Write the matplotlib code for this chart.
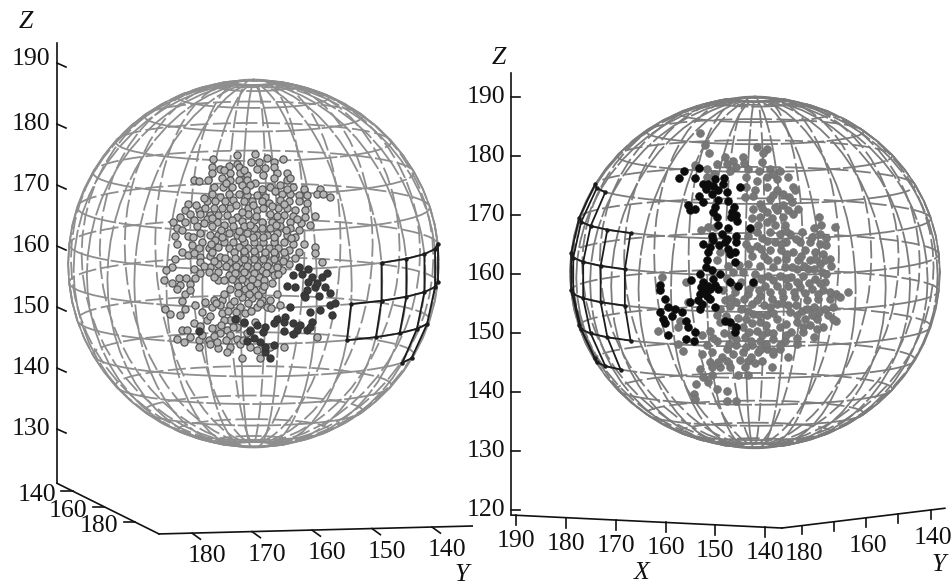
import numpy as np
import matplotlib
matplotlib.use("Agg")
import matplotlib.pyplot as plt

plt.rcParams['font.family'] = ['Liberation Serif', 'DejaVu Serif']

# left panel, points read as (Y, Z)
left_gray = [
    (172.5,174.9),(169.5,175.1),(176.5,174.2),(170.2,173.7),(168.9,173.8),(167.5,174.4),(166.4,173.8),(164.9,174.2),
    (172.5,173.5),(173.9,173.1),(172.1,173.0),(176.7,173.0),(175.4,172.6),(176.7,172.0),(169.2,172.7),(167.9,172.8),
    (166.3,172.9),(173.6,172.0),(172.0,171.9),(170.9,171.6),(165.9,171.9),(164.2,171.9),(179.7,170.8),(178.9,170.7),
    (177.4,170.9),(175.0,171.1),(173.6,170.8),(172.2,170.8),(170.9,170.8),(169.5,170.3),(166.4,171.1),(164.2,170.8),
    (163.6,171.1),(176.4,169.7),(174.8,169.7),(173.4,169.7),(171.7,170.0),(170.3,170.0),(168.4,169.4),(167.0,169.7),
    (165.3,170.0),(163.1,169.7),(161.4,169.3),(158.6,169.4),(159.2,168.6),(158.1,168.6),(157.0,168.1),(176.7,168.6),
    (175.3,168.1),(173.9,168.6),(172.2,168.6),(170.9,168.3),(169.2,168.3),(167.8,168.1),(165.0,168.6),(163.6,168.6),
    (162.2,168.3),(160.9,168.3),(177.5,167.3),(176.1,167.3),(174.5,167.3),(173.1,167.5),(171.4,167.3),(170.0,167.3),
    (168.4,167.3),(167.2,167.0),(165.3,167.5),(163.9,167.3),(162.2,167.3),(160.9,167.0),(180.6,166.9),(181.1,165.9),
    (178.9,165.9),(177.8,166.2),(176.4,166.2),(175.0,166.2),(173.6,166.2),(170.6,166.2),(169.2,165.9),(168.1,166.2),
    (165.6,166.2),(164.2,166.2),(162.8,165.9),(161.1,165.9),(182.0,164.7),(183.1,164.0),(180.3,165.3),(178.6,165.3),
    (177.0,165.1),(175.6,165.1),(174.2,165.1),(170.6,165.3),(167.0,165.3),(164.7,165.1),(163.1,164.9),(161.1,164.7),
    (159.5,164.9),(172.5,164.7),(173.4,164.2),(171.7,164.1),(177.5,164.4),(175.9,164.0),(179.7,164.2),(181.1,164.0),
    (182.5,162.9),(179.2,163.2),(176.7,163.2),(174.7,163.4),(173.1,163.2),(171.4,163.2),(169.7,164.2),(168.4,164.0),
    (166.7,164.0),(165.3,164.2),(163.6,164.0),(161.9,163.7),(160.3,163.4),(169.7,162.9),(168.4,162.9),(167.0,162.9),
    (165.3,163.2),(163.6,162.9),(162.2,162.6),(182.8,161.6),(180.6,161.6),(178.6,162.1),(177.0,161.8),(175.6,161.8),
    (173.9,162.1),(172.5,161.8),(170.9,162.1),(169.2,161.8),(167.5,161.8),(165.9,162.1),(164.2,161.8),(162.8,161.5),
    (182.5,160.4),(180.0,160.1),(178.4,160.7),(176.1,161.0),(174.7,160.7),(173.1,160.7),(171.4,160.7),(169.7,160.7),
    (168.1,160.7),(166.4,160.7),(164.7,160.7),(163.1,160.4),(161.4,160.4),(159.5,159.8),(178.9,159.6),(177.2,159.6),
    (175.6,159.9),(173.9,159.6),(172.2,159.9),(170.6,159.6),(168.9,159.6),(167.2,159.6),(165.6,159.6),(163.9,159.3),
    (162.2,159.1),(181.7,159.1),(180.6,158.5),(178.6,158.2),(177.0,158.3),(175.3,158.2),(171.1,158.5),(169.5,158.5),
    (167.8,158.5),(166.1,158.5),(164.5,158.2),(162.8,158.0),(159.5,158.8),(182.8,157.8),(178.6,157.4),(175.6,157.1),
    (173.9,157.4),(172.2,157.4),(170.6,157.4),(168.9,157.4),(167.2,157.4),(165.6,157.1),(163.9,157.1),(158.4,157.4),
    (183.4,156.5),(184.3,156.0),(179.7,156.3),(177.0,156.6),(173.4,156.3),(171.7,156.3),(170.0,156.3),(168.4,156.0),
    (166.7,156.3),(165.0,156.0),(184.7,154.5),(178.6,155.5),(177.2,155.8),(175.6,155.8),(173.9,155.2),(172.2,155.2),
    (170.6,155.2),(168.9,155.0),(166.4,155.2),(182.2,154.7),(183.4,154.0),(182.0,153.6),(179.5,154.7),(175.6,154.4),
    (174.7,154.4),(172.5,154.1),(170.9,154.1),(169.2,153.9),(166.7,153.9),(180.3,153.7),(182.5,153.0),(181.1,152.2),
    (173.6,153.0),(171.1,153.0),(169.7,152.8),(168.4,152.8),(165.9,152.2),(180.3,152.8),(181.7,151.0),(177.8,150.9),
    (176.4,151.1),(175.0,151.1),(171.7,151.7),(170.0,151.4),(168.4,151.1),(167.0,151.1),(165.3,150.3),(176.7,150.0),
    (175.3,150.3),(173.6,150.3),(172.0,150.0),(169.2,150.0),(167.5,150.0),(184.5,149.6),(183.6,148.8),(181.1,149.6),
    (179.5,150.3),(182.0,148.7),(178.4,149.2),(175.0,149.0),(171.1,149.0),(177.5,147.9),(179.7,147.4),(173.6,147.9),
    (172.5,146.8),(175.9,146.5),(176.7,146.5),(181.7,146.2),(180.9,146.3),(174.2,146.2),(171.4,147.3),(169.5,147.6),
    (170.3,146.2),(182.5,144.8),(180.3,145.1),(178.9,144.6),(177.2,144.6),(175.3,145.7),(173.6,145.4),(172.5,144.8),
    (170.9,145.7),(177.0,144.0),(178.9,143.5),(175.6,143.2),(173.6,143.5),(172.0,144.0),(170.3,143.5),(169.2,142.9),
    (174.2,142.7),(171.7,141.6),(168.6,141.6),(167.0,143.5),(164.7,143.5),(159.2,145.1),(181.4,144.3),
    # second pass over the dense middle of the cloud
    (174.6,172.4),(171.3,172.5),(168.1,171.6),(174.4,170.3),(171.0,169.2),(166.2,169.0),(164.2,169.4),(178.0,167.9),
    (172.7,166.7),(171.6,165.6),(169.8,166.7),(166.6,166.5),(164.6,166.9),(179.4,166.8),(176.6,164.6),(169.4,165.0),
    (165.9,164.9),(162.5,164.4),(178.0,163.7),(175.2,162.6),(172.2,162.5),(170.4,163.4),(166.0,163.5),(164.4,162.7),
    (181.7,162.6),(179.9,161.4),(176.8,160.3),(175.0,161.4),(171.6,161.3),(169.9,161.4),(168.2,161.4),(166.4,161.4),
    (163.5,161.3),(179.7,158.9),(176.6,159.0),(173.0,159.0),(171.3,159.2),(169.6,159.2),(167.9,159.1),(166.3,159.1),
    (164.6,159.0),(176.3,157.5),(174.5,158.1),(172.9,158.1),(171.4,157.8),(169.7,157.9),(168.1,157.8),(166.4,157.8),
    (164.8,157.6),(178.0,156.8),(174.3,156.7),(172.6,156.7),(170.8,156.8),(169.2,156.8),(167.5,156.7),(165.8,156.6),
    (172.9,155.6),(171.4,155.7),(169.7,155.6),(167.6,155.6),(165.7,155.4),(176.4,155.0),(173.3,154.6),(171.7,154.6),
    (170.0,154.6),(168.0,154.5),(181.0,154.8),(172.3,153.5),(170.3,153.5),(168.0,153.4),(172.4,152.3),(170.5,152.2),
    (169.0,152.0),(174.6,152.1),(176.0,150.6),(173.0,151.0),(170.7,150.7),(168.7,150.6),(166.8,149.9),(174.0,149.3),
    (172.6,149.2),(170.2,149.3),(177.0,148.6),(174.6,147.8),(172.7,148.1),(178.6,146.9),(175.1,147.0),(173.2,146.8),
    (178.3,145.4),(176.3,145.2),(174.4,144.6),(171.5,144.6),(175.9,144.3),
]
left_dark = [
    (162.2,156.6),(160.6,156.3),(157.5,155.6),(158.4,155.0),(163.1,155.2),(160.0,155.0),(160.6,154.1),(164.2,153.4),
    (162.8,153.3),(157.8,153.3),(157.0,152.3),(160.9,152.8),(159.5,153.3),(161.4,152.0),(161.1,151.7),(157.0,150.3),
    (156.1,150.7),(163.6,150.0),(160.3,149.2),(158.7,149.5),(156.7,148.7),(172.8,148.0),(171.4,147.6),(169.2,147.0),
    (167.8,146.8),(165.9,148.1),(164.5,148.4),(164.7,147.6),(163.1,147.3),(160.0,147.6),(162.5,146.2),(160.9,146.2),
    (160.3,146.8),(178.9,146.0),(170.3,146.0),(164.7,146.0),(163.1,145.6),(168.6,144.3),(170.9,144.5),(166.4,143.8),
    (167.8,142.7),(167.0,141.6),(167.8,143.5),(161.6,155.4),(159.2,154.0),(158.9,151.8),(162.0,147.0),(166.4,147.4),
    (168.2,145.9),(169.6,145.0),
]
# right panel, points read as (horizontal view coordinate, Z)
right_gray = [
    (-8.9,183.8),(-8.1,181.8),(0.3,181.5),(1.9,181.2),(-7.4,180.4),(1.3,180.4),(-4.9,179.8),(-3.5,179.2),
    (-2.0,179.8),(-9.7,178.4),(-7.8,177.8),(-6.2,178.7),(-4.6,178.7),(-3.0,178.1),(-1.1,177.8),(1.1,179.0),
    (2.4,177.8),(4.0,177.5),(5.4,176.4),(-7.8,176.4),(-1.4,176.4),(0.3,175.8),(1.9,176.4),(3.5,176.1),
    (6.2,174.7),(-1.4,174.7),(0.0,174.2),(1.9,174.7),(3.5,174.2),(4.6,173.6),(6.5,174.2),(-1.6,173.0),
    (0.8,171.9),(2.4,172.7),(4.6,171.6),(6.0,172.2),(7.0,171.0),(-0.3,171.0),(1.9,170.5),(3.5,170.8),
    (5.4,170.8),(6.2,170.2),(10.4,169.6),(4.6,169.6),(0.8,169.6),(-0.5,169.4),(10.7,168.2),(1.9,168.8),
    (3.2,168.2),(4.9,168.2),(13.0,167.9),(-7.6,167.9),(-8.7,167.4),(-6.5,167.9),(9.5,167.7),(0.3,167.1),
    (2.4,167.1),(4.0,166.8),(5.7,166.8),(7.6,167.1),(10.5,166.8),(11.6,166.0),(-1.1,166.5),(1.1,166.0),
    (3.2,165.4),(5.1,165.4),(7.3,165.4),(8.9,165.4),(10.5,165.1),(12.2,162.6),(-1.4,165.1),(0.3,164.8),
    (2.4,164.0),(4.3,164.0),(6.2,163.7),(8.1,164.0),(9.7,163.7),(11.1,163.4),(-5.7,163.7),(-0.5,163.1),
    (1.4,163.1),(3.5,162.3),(5.1,162.6),(7.0,162.3),(8.9,162.3),(10.5,161.7),(12.4,161.4),(-6.2,162.3),
    (-1.1,161.7),(0.8,161.4),(3.0,161.2),(4.9,161.2),(6.8,160.9),(8.6,160.9),(10.8,160.3),(-1.9,160.3),
    (-3.5,160.3),(0.0,160.0),(2.2,159.7),(4.0,159.7),(5.9,159.5),(7.8,159.7),(9.7,159.2),(11.3,158.6),
    (-15.1,159.5),(-11.1,158.6),(-4.6,159.2),(-2.2,158.6),(-0.3,158.3),(1.6,158.0),(3.5,158.0),(5.4,158.0),
    (7.3,157.8),(9.2,157.5),(11.1,157.2),(13.2,156.6),(15.1,156.9),(-5.1,157.2),(-3.2,156.9),(-1.1,156.6),
    (0.8,156.3),(2.7,155.8),(4.6,156.1),(6.5,156.1),(8.4,155.5),(10.3,155.8),(12.2,155.8),(13.8,156.1),
    (-4.9,155.5),(-3.0,155.2),(-0.5,154.9),(1.4,154.7),(3.5,154.9),(5.4,154.7),(7.6,153.8),(9.5,154.4),
    (11.4,154.1),(-10.9,155.2),(-5.7,154.1),(-2.2,154.1),(-0.3,153.2),(1.9,153.0),(5.7,153.5),(8.1,152.4),
    (10.0,152.4),(11.9,153.0),(13.2,152.1),(-6.2,153.0),(-1.4,152.4),(0.8,151.8),(3.5,152.4),(6.8,151.8),
    (8.9,151.3),(11.1,151.0),(12.7,152.4),(-15.7,150.4),(-12.2,152.1),(-5.7,151.8),(-1.9,151.0),(0.3,150.4),
    (2.0,150.1),(4.0,151.0),(5.9,150.1),(7.8,150.1),(9.5,149.3),(-12.4,151.0),(-7.3,150.4),(-3.8,149.6),
    (-1.6,149.3),(0.8,148.7),(3.0,149.0),(4.9,148.7),(6.8,148.2),(-12.4,148.2),(-8.6,149.6),(-6.2,148.7),
    (-3.0,147.9),(-0.5,147.9),(1.9,147.3),(4.0,147.3),(-11.6,147.0),(-7.8,147.9),(-4.6,147.3),(-1.9,146.8),
    (0.5,146.8),(3.0,146.5),(5.4,145.9),(-8.6,146.5),(-5.4,145.9),(-7.3,145.1),(-4.6,145.3),(-1.1,145.3),
    (1.1,145.3),(-8.9,143.9),(-7.0,144.2),(-5.7,144.2),(-4.1,144.2),(-1.6,144.2),(2.7,144.2),(-2.7,142.8),
    (-1.1,142.8),(-8.4,142.5),(-7.0,142.8),(-9.5,141.4),(-7.6,141.7),(-4.6,140.2),(-6.2,140.5),(-9.9,139.7),
    (-9.7,138.8),(-4.6,138.5),(-3.0,138.4),
    # second pass over the dense parts
    (-6.6,177.0),(-4.0,177.4),(-1.8,178.8),(0.6,177.4),(3.0,177.0),(-0.3,173.2),(2.9,173.4),(5.6,173.0),
    (3.3,171.4),(1.2,171.2),(5.0,167.2),(2.8,169.4),(0.5,168.2),(6.6,165.9),(4.2,165.0),(2.0,165.6),
    (-0.8,164.2),(1.0,164.3),(9.2,166.2),(11.6,164.9),(5.2,163.3),(7.4,163.0),(9.7,162.6),(11.4,162.4),
    (-2.6,161.5),(2.2,162.4),(6.0,161.2),(8.0,161.4),(9.6,160.9),(11.6,159.9),(-4.4,161.4),(1.0,159.2),
    (3.0,158.9),(5.0,159.1),(6.8,158.7),(8.7,158.5),(10.6,158.4),(-3.4,158.0),(-1.0,157.5),(0.6,157.2),
    (2.5,157.0),(4.4,157.0),(6.4,157.0),(8.2,156.7),(10.2,156.6),(12.2,157.0),(-3.8,156.0),(-1.8,155.7),
    (0.4,155.5),(2.4,154.4),(4.4,155.0),(6.6,154.8),(8.4,154.0),(10.4,153.6),(12.6,154.4),(-4.0,154.6),
    (-1.2,153.8),(0.6,153.0),(3.0,153.3),(6.8,153.0),(9.2,153.0),(-4.7,152.9),(-2.8,152.6),(-0.4,151.6),
    (1.8,151.4),(5.0,151.5),(7.8,151.0),(10.0,150.6),(-3.6,151.2),(-1.0,150.2),(1.2,149.7),(3.0,150.0),
    (5.0,149.6),(6.8,149.2),(-5.0,150.0),(-3.0,149.0),(-0.6,148.6),(1.8,148.2),(4.0,148.0),(-6.8,149.1),
    (-4.2,148.2),(-1.4,147.7),(0.8,147.3),(2.9,147.0),(-7.0,146.8),(-3.6,146.4),(-0.6,146.0),(-6.0,145.0),
    (-2.4,145.4),(0.0,144.9),
]
right_black = [
    (-11.5,177.4),(-12.3,176.2),(-9.0,178.0),(-9.7,176.2),(-8.4,175.3),(-7.6,175.3),(-6.5,176.1),(-5.0,176.2),
    (-5.1,175.3),(-2.4,174.7),(-7.0,173.6),(-9.0,173.2),(-4.6,173.8),(-6.0,174.2),(-8.4,172.2),(-6.0,172.5),
    (-10.8,171.7),(-10.5,170.9),(-9.7,171.0),(-6.5,171.3),(-3.4,171.3),(-6.8,170.5),(-3.8,169.6),(-3.0,169.9),
    (-6.2,169.6),(-6.0,168.2),(-0.8,167.7),(-4.3,167.7),(-7.0,166.5),(-5.4,166.8),(-3.0,166.5),(-6.8,165.7),
    (-4.9,165.4),(-8.4,165.0),(-7.3,164.5),(-3.0,165.4),(-4.3,164.3),(-3.2,163.7),(-7.6,163.7),(-4.1,163.4),
    (-7.8,162.3),(-3.2,162.0),(-8.9,160.0),(-7.0,160.6),(-5.7,160.0),(-10.3,158.9),(-8.4,158.6),(-6.8,159.2),
    (-4.1,158.6),(-2.7,158.0),(-15.4,158.2),(-15.4,157.2),(-8.7,157.8),(-7.3,157.5),(-6.0,157.5),(-8.9,156.6),
    (-7.8,156.3),(-9.2,155.5),(-7.3,155.8),(-10.5,155.3),(-14.6,155.8),(-14.1,154.4),(-15.4,153.6),(-13.0,154.1),
    (-11.9,153.5),(-8.9,154.1),(-6.5,154.4),(-14.9,152.4),(-14.6,151.6),(-11.1,152.1),(-10.8,151.0),(-4.9,152.1),
    (-4.1,151.8),(-3.0,151.0),(-3.2,150.1),(-9.7,150.1),(-14.1,149.6),(-11.1,149.0),(-9.9,148.7),(-0.3,158.6),
    (-6.8,174.9),(-8.0,174.4),(-4.4,172.3),(-3.7,170.5),(-2.9,168.9),(-5.9,164.9),(-8.0,161.2),(-6.5,158.2),
    (-7.9,157.2),(-8.6,154.9),(-13.4,152.9),(-7.6,158.0),(-4.6,165.9),
]

# wireframe grid, degrees
grid_lat = [78, 66, 54, 42, 30, 18, 6, -6, -18, -30, -42, -54, -66, -78]
left_lon = np.arange(-172, 188, 12)
right_lon = np.arange(-171, 189, 12)

# dark patch on each sphere: (lat, lon from, lon to) and (lon, lat from, lat to)
left_patch_par = [(6, 44, 92), (-6, 32, 92), (-18, 32, 80), (-30, 68, 80)]
left_patch_mer = [(32, -6, -18), (44, 6, -18), (56, 6, -18), (68, 6, -30), (80, 6, -30), (92, 6, -6)]
right_patch_par = [(30, -93, -69), (18, -93, -45), (6, -93, -45), (-6, -93, -45), (-18, -93, -45), (-30, -93, -57)]
right_patch_mer = [(-93, 30, -30), (-81, 30, -30), (-69, 30, -30), (-57, 18, -30), (-45, 18, -18)]

# tick values
left_z_ticks = [190, 180, 170, 160, 150, 140, 130]
left_y_ticks = [180, 170, 160, 150, 140]
left_depth_ticks = [140, 160, 180]
right_z_ticks = [190, 180, 170, 160, 150, 140, 130, 120]
right_x_ticks = [190, 180, 170, 160, 150, 140]
right_y_ticks = [180, 170, 160, 150, 140]
right_y_labels = [180, 160, 140]

FS = 18.5
W, H = 951, 585

fig = plt.figure(figsize=(9.51, 5.85), dpi=100)
ax1 = fig.add_axes([0, 0, 475 / W, 1])
ax2 = fig.add_axes([475 / W, 0, 476 / W, 1])
ax1.set_xlim(212, 132.83)
ax1.set_ylim(104.43, 200.33)
ax2.set_xlim(-45.4, 31.8)
ax2.set_ylim(107.3, 206.4)
for a in (ax1, ax2):
    a.axis('off')


def project(lat, lon, cx, cz, rh, rz, elev, hsign):
    lat, lon = np.radians(lat), np.radians(lon)
    e = np.radians(elev)
    h = cx + hsign * rh * np.cos(lat) * np.sin(lon)
    z = cz + rz * (np.sin(lat) * np.cos(e) - np.cos(lat) * np.cos(lon) * np.sin(e))
    depth = np.cos(lat) * np.cos(lon) * np.cos(e) + np.sin(lat) * np.sin(e)
    return h, z, depth


def draw_curve(ax, lat, lon, sph, color, lw):
    h, z, depth = project(lat, lon, *sph)
    front = depth >= -0.02
    back = depth <= 0.02
    # back half dashed, front half with long pieces
    ax.plot(np.where(back, h, np.nan), z, color=color, lw=lw, dashes=(10, 2.5), zorder=2)
    ax.plot(np.where(front, h, np.nan), z, color=color, lw=lw, dashes=(24, 1.5), zorder=2)


def draw_sphere(ax, lons, sph, color, lw):
    for lat in grid_lat:
        draw_curve(ax, np.full(61, lat), np.linspace(-180, 180, 61), sph, color, lw)
    for lon in lons:
        draw_curve(ax, np.linspace(-84, 84, 29), np.full(29, lon), sph, color, lw)
    # rim of the sphere
    t = np.linspace(0, 2 * np.pi, 61)
    ax.plot(sph[0] + sph[2] * np.cos(t), sph[1] + sph[3] * np.sin(t), color=color, lw=lw * 0.9, zorder=2)
    for lat in (84, -84):
        h, z, _ = project(np.full(31, lat), np.linspace(-180, 180, 31), *sph)
        ax.plot(h, z, color=color, lw=lw * 1.6, zorder=2)


def draw_patch(ax, pars, mers, sph):
    for lat, a, b in pars:
        lon = np.arange(a, b + 1, 12)
        h, z, _ = project(np.full(len(lon), lat), lon, *sph)
        ax.plot(h, z, color='#1c1c1c', lw=1.3, marker='o', ms=2.2, zorder=3)
    for lon, a, b in mers:
        lat = np.arange(a, b - 1, -12)
        h, z, _ = project(lat, np.full(len(lat), lon), *sph)
        ax.plot(h, z, color='#1c1c1c', lw=1.3, zorder=3)


def label(ax, txt, x, y, dx=0, dy=0, ha='center', style='normal'):
    ax.annotate(txt, xy=(x, y), xytext=(dx, dy), textcoords='offset pixels', ha=ha, va='center',
                fontsize=FS, style=style, color='#111111', annotation_clip=False)


# left sphere, the Y axis runs to the left so hsign is -1
sph1 = (169.75, 157.13, 30.9, 30.08, 8, -1)
draw_sphere(ax1, left_lon, sph1, '#8e8e8e', 1.3)
draw_patch(ax1, left_patch_par, left_patch_mer, sph1)
g = np.array(left_gray)
d = np.array(left_dark)
ax1.scatter(g[:, 0], g[:, 1], s=27, c='#b4b4b4', edgecolors='#555555', linewidths=0.9, zorder=4)
ax1.scatter(d[:, 0], d[:, 1], s=27, c='#3a3a3a', edgecolors='#333333', linewidths=0.8, zorder=5)

# left axes box
AK = dict(color='#111111', lw=1.2, zorder=6, clip_on=False)
zx, ybot = 202.5, 121.1
ax1.plot([zx, zx], [ybot, 193.3], **AK)
ax1.plot([zx, 185.5], [ybot, 112.8], **AK)
ax1.plot([185.5, 133.3], [112.8, 114.1], **AK)
for v in left_z_ticks:
    ax1.plot([zx, zx - 1.5], [v, v - 0.66], **AK)
    label(ax1, str(v), zx, v, dx=-7, dy=4 if v == 190 else 0, ha='right')
for v in left_y_ticks:
    base = np.interp(v, [133.3, 185.5], [114.1, 112.8])
    ax1.plot([v, v - 1.4], [base, base - 1.0], **AK)
    label(ax1, str(v), v, base, dx=15, dy=-23)
for v in left_depth_ticks:
    f = (v - 130) / 65
    px, pz = zx + f * (185.5 - zx), ybot + f * (112.8 - ybot)
    ax1.plot([px, px + 1.9], [pz, pz], **AK)
    label(ax1, str(v), px, pz, dx=-36, dy=-4)
label(ax1, 'Y', 133.3, 114.1, dx=-10, dy=-49, style='italic')
label(ax1, 'Z', zx, 193.3, dx=-31, dy=21, style='italic')

# right sphere
sph2 = (0.0, 160.25, 30.0, 29.7, 7, 1)
draw_sphere(ax2, right_lon, sph2, '#7c7c7c', 1.3)
draw_patch(ax2, right_patch_par, right_patch_mer, sph2)
g = np.array(right_gray)
d = np.array(right_black)
ax2.scatter(g[:, 0], g[:, 1], s=32, c='#777777', edgecolors='#6c6c6c', linewidths=0.4, zorder=4)
ax2.scatter(d[:, 0], d[:, 1], s=32, c='#0c0c0c', edgecolors='#0c0c0c', linewidths=0.4, zorder=5)

# right axes box
zx2 = -39.5
ax2.plot([zx2, zx2], [119.15, 194.07], **AK)
ax2.plot([zx2, 4.38], [119.15, 116.95], **AK)
ax2.plot([4.38, 30.8], [116.95, 120.3], **AK)
for v in right_z_ticks:
    ax2.plot([zx2, zx2 + 1.46], [v, v], **AK)
    label(ax2, str(v), zx2, v, dx=-6, ha='right')
for v in right_x_ticks:
    hpos = -38.7 + (190 - v) * 0.807
    base = np.interp(hpos, [zx2, 4.38], [119.15, 116.95])
    ax2.plot([hpos, hpos], [base, base - 1.7], **AK)
    label(ax2, str(v), hpos, base, dy=-26)
for v in right_y_ticks:
    hpos = 7.6 + (180 - v) * 0.522
    base = np.interp(hpos, [4.38, 30.8], [116.95, 120.3])
    ax2.plot([hpos, hpos], [base, base - 1.5], **AK)
    if v in right_y_labels:
        label(ax2, str(v), hpos, base, dx=2, dy=-28)
label(ax2, 'X', -18.3, 116.95, dy=-45, style='italic')
label(ax2, 'Y', 30.8, 120.3, dx=-6, dy=-57, style='italic')
label(ax2, 'Z', zx2, 194.07, dx=-13, dy=15, style='italic')

fig.savefig('out.png', dpi=100)
